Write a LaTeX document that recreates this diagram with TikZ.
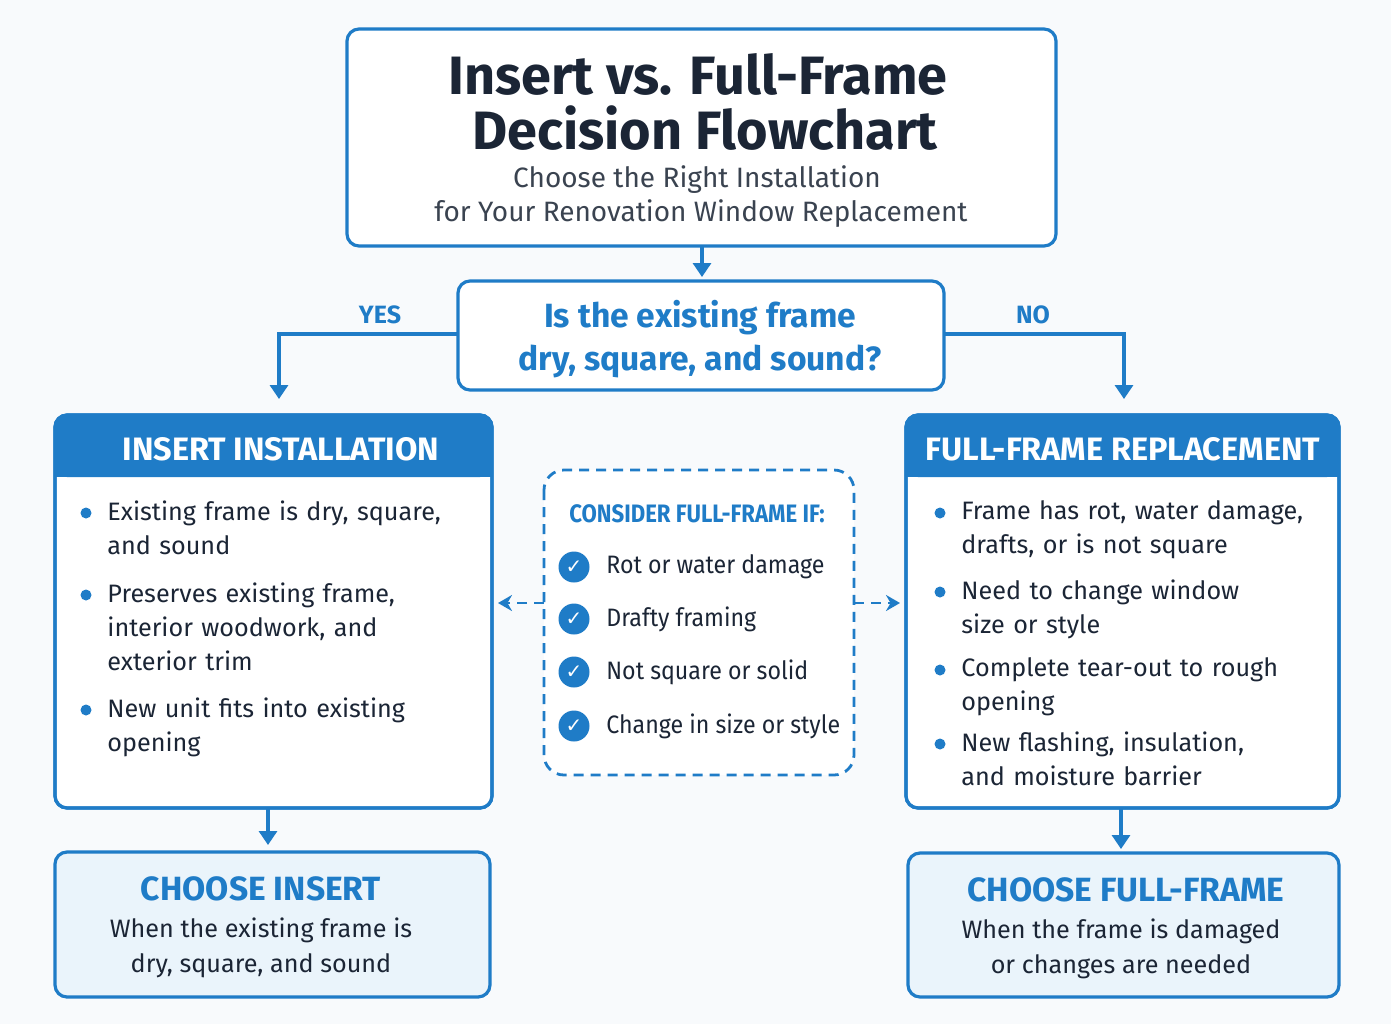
\documentclass[tikz,border=0pt]{standalone}
\usepackage{fontspec}
\setmainfont{Fira Sans}
\newfontfamily\symfont{DejaVu Sans}
\usetikzlibrary{arrows.meta}
\definecolor{bl}{HTML}{1F7CC7}
\definecolor{dk}{HTML}{1B2535}
\definecolor{gy}{HTML}{3A4350}
\definecolor{lb}{HTML}{EAF4FB}
\definecolor{bg}{HTML}{F8FAFC}
\tikzset{
 box/.style={draw=bl,line width=1.6pt,rounded corners=6pt},
 arr/.style={draw=bl,line width=1.6pt,-{Triangle[length=7pt,width=9pt]}},
 darr/.style={draw=bl,line width=1.4pt,dash pattern=on 5pt off 3.5pt,-{Stealth[length=7pt,width=8pt]}},
 btxt/.style={anchor=north west,align=left,text width=200pt,inner sep=0pt,text=dk,font=\fontsize{12.6}{17}\selectfont},
 dot/.style={circle,fill=bl,inner sep=0pt,minimum size=5.5pt},
 chk/.style={circle,fill=bl,inner sep=0pt,minimum size=15.5pt,text=white,font=\symfont\bfseries\fontsize{10}{10}\selectfont},
 ctxt/.style={anchor=west,inner sep=0pt,text=dk,font=\fontsize{12.6}{15}\selectfont,xscale=0.92}
}
\begin{document}
\begin{tikzpicture}[x=0.5pt,y=-0.5pt]
\useasboundingbox[fill=bg] (0,0) rectangle (1391,1024);
% title
\draw[box,fill=white] (347,29) rectangle (1056,246);
\node (t1) at (698,74) {\bfseries\color{dk}\fontsize{27}{28}\selectfont Insert vs. Full-Frame};
\node (t2) at (705,128) {\bfseries\color{dk}\fontsize{27}{28}\selectfont Decision Flowchart};
\node (t3) at (697,180) {\color{gy}\fontsize{14}{16}\selectfont Choose the Right Installation};
\node (t4) at (701,214) {\color{gy}\fontsize{14}{16}\selectfont for Your Renovation Window Replacement};
\coordinate (tb) at (702,246);
% question
\draw[box,fill=white] (458,281) rectangle (944,390);
\node (q) at (700,339) [align=center,text=bl,font=\bfseries\fontsize{16.8}{21.5}\selectfont] {Is the existing frame\\dry, square, and sound?};
\coordinate (qt) at (702,277);
\draw[arr] (tb) -- (qt);
\coordinate (ql) at (458,334); \coordinate (qr) at (944,334);
\coordinate (ia) at (279,399); \coordinate (fa) at (1124,399);
\draw[arr] (ql) -| (ia);
\draw[arr] (qr) -| (fa);
\node (yes) at (380,315) [text=bl,font=\bfseries\fontsize{12.5}{14}\selectfont] {YES};
\node (no) at (1033,315) [text=bl,font=\bfseries\fontsize{12.5}{14}\selectfont] {NO};
% insert box
\draw[box,fill=white] (55,415) rectangle (492,808);
\fill[bl,rounded corners=6pt] (55,415) rectangle (492,477);
\fill[bl] (55,455) rectangle (492,477);
\draw[box] (55,415) rectangle (492,808);
\node (ih) at (281,449) [text=white,font=\bfseries\fontsize{16.2}{17}\selectfont] {INSERT INSTALLATION};
\node[dot] (ib1) at (86,513) {}; \node[btxt] (it1) at (107,500) {Existing frame is dry, square,\\and sound};
\node[dot] (ib2) at (86,595) {}; \node[btxt] (it2) at (107,582) {Preserves existing frame,\\interior woodwork, and\\exterior trim};
\node[dot] (ib3) at (86,710) {}; \node[btxt] (it3) at (107,697) {New unit fits into existing\\opening};
% full-frame box
\draw[box,fill=white] (906,415) rectangle (1339,808);
\fill[bl,rounded corners=6pt] (906,415) rectangle (1339,477);
\fill[bl] (906,455) rectangle (1339,477);
\draw[box] (906,415) rectangle (1339,808);
\node (fh) at (1123,449) [text=white,font=\bfseries\fontsize{16.2}{17}\selectfont] {FULL-FRAME REPLACEMENT};
\node[dot] (fb1) at (940,513) {}; \node[btxt] (ft1) at (961,500) {Frame has rot, water damage,\\drafts, or is not square};
\node[dot] (fb2) at (940,592) {}; \node[btxt] (ft2) at (961,579) {Need to change window\\size or style};
\node[dot] (fb3) at (940,670) {}; \node[btxt] (ft3) at (961,657) {Complete tear-out to rough\\opening};
\node[dot] (fb4) at (940,744) {}; \node[btxt] (ft4) at (961,731) {New flashing, insulation,\\and moisture barrier};
% consider box
\draw[draw=bl,line width=1.4pt,dash pattern=on 5pt off 3.5pt,rounded corners=10pt,fill=white] (544,470) rectangle (854,775);
\node (ch) at (697,514) [text=bl,font=\bfseries\fontsize{12.6}{14}\selectfont,xscale=0.88] {CONSIDER FULL-FRAME IF:};
\node[chk] (c1) at (574,567) {✓}; \node[ctxt] (ct1) at (606,567) {Rot or water damage};
\node[chk] (c2) at (574,619) {✓}; \node[ctxt] (ct2) at (606,619) {Drafty framing};
\node[chk] (c3) at (574,672) {✓}; \node[ctxt] (ct3) at (606,672) {Not square or solid};
\node[chk] (c4) at (574,726) {✓}; \node[ctxt] (ct4) at (606,726) {Change in size or style};
\coordinate (cl) at (544,603); \coordinate (cr) at (854,603);
\coordinate (il) at (498,603); \coordinate (fr) at (900,603);
\draw[darr] (cl) -- (il);
\draw[darr] (cr) -- (fr);
% choose boxes
\coordinate (ib) at (268,808); \coordinate (ci) at (268,845);
\coordinate (fb) at (1121,808); \coordinate (cf) at (1121,849);
\draw[arr] (ib) -- (ci);
\draw[arr] (fb) -- (cf);
\draw[box,fill=lb] (55,852) rectangle (490,997);
\node (k1) at (261,889) [text=bl,font=\bfseries\fontsize{16.8}{17}\selectfont] {CHOOSE INSERT};
\node (k2) at (261,948) [align=center,text=dk,font=\fontsize{12.6}{17.5}\selectfont] {When the existing frame is\\dry, square, and sound};
\draw[box,fill=lb] (908,853) rectangle (1339,997);
\node (k3) at (1126,890) [text=bl,font=\bfseries\fontsize{16.8}{17}\selectfont] {CHOOSE FULL-FRAME};
\node (k4) at (1121,949) [align=center,text=dk,font=\fontsize{12.6}{17.5}\selectfont] {When the frame is damaged\\or changes are needed};
\end{tikzpicture}
\end{document}
